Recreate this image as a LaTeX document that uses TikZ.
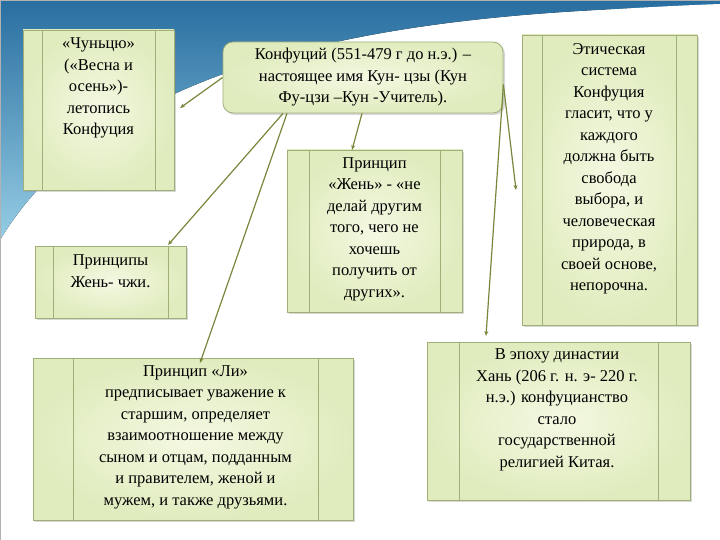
\documentclass[tikz,border=0pt]{standalone}
\usepackage{fontspec}
\setmainfont{Liberation Serif}
\usetikzlibrary{arrows.meta,shadows}
\definecolor{boxA}{RGB}{244,248,226}
\definecolor{boxB}{RGB}{224,236,190}
\definecolor{edge}{RGB}{160,175,120}
\definecolor{arr}{RGB}{120,135,60}
\tikzset{
  panel/.style={draw=edge, line width=0.8pt, inner color=boxA, outer color=boxB, drop shadow={opacity=0.3,shadow xshift=2pt,shadow yshift=-2pt}},
  txt/.style={align=center, font=\fontsize{16.5}{21.5}\selectfont, text=black},
  conn/.style={draw=arr, line width=1.2pt, -{Stealth[length=5pt,width=4pt]}}
}
\begin{document}
\begin{tikzpicture}[x=1pt,y=-1pt]
\useasboundingbox (0,0) rectangle (720,540);
\fill[white] (0,0) rectangle (720,540);
\fill[top color={rgb,255:red,40;green,110;blue,160}, bottom color={rgb,255:red,150;green,205;blue,228}] (0,0) -- (720,0) -- (720,6) .. controls (450,10) and (120,40) .. (0,240) -- cycle;
\fill[white] (720,4) .. controls (450,14) and (100,50) .. (0,250) -- (0,540) -- (720,540) -- cycle;
\draw[gray!60] (0,0) rectangle (720,540);
% boxes
\path[panel] (23,30) rectangle (174,190);
\draw[edge] (42,30)--(42,190) (155,30)--(155,190);
\node[txt] (chun) at (98.5,88) {«Чуньцю»\\(«Весна и\\осень»)-\\летопись\\Конфуция};

\node[txt,panel,rounded corners=10pt,minimum width=280pt,minimum height=71pt,inner sep=0pt] (konf) at (363,77.5) {Конфуций (551-479 г до н.э.) –\\настоящее имя Кун- цзы (Кун\\Фу-цзи –Кун -Учитель).};

\path[panel] (287,150) rectangle (462,312);
\draw[edge] (309,150)--(309,312) (440,150)--(440,312);
\node[txt] (zhen) at (374.5,229) {Принцип\\«Жень» - «не\\делай другим\\того, чего не\\хочешь\\получить от\\других».};

\path[panel] (522,35) rectangle (697,325);
\draw[edge] (542,35)--(542,325) (676,35)--(676,325);
\node[txt] (eth) at (609,169) {Этическая\\система\\Конфуция\\гласит, что у\\каждого\\должна быть\\свобода\\выбора, и\\человеческая\\природа, в\\своей основе,\\непорочна.};

\path[panel] (35,246) rectangle (186,318);
\draw[edge] (53,246)--(53,318) (168,246)--(168,318);
\node[txt] (zhch) at (110.5,271) {Принципы\\Жень- чжи.};

\path[panel] (33,358) rectangle (353,520);
\draw[edge] (73,358)--(73,520) (318,358)--(318,520);
\node[txt] (li) at (195.5,437) {Принцип «Ли»\\предписывает уважение к\\старшим, определяет\\взаимоотношение между\\сыном и отцам, подданным\\и правителем, женой и\\мужем, и также друзьями.};

\path[panel] (427,342) rectangle (690,500);
\draw[edge] (459,342)--(459,500) (658,342)--(658,500);
\node[txt] (han) at (557,410) {В эпоху династии\\Хань (206 г. н. э- 220 г.\\н.э.) конфуцианство\\стало\\государственной\\религией Китая.};

% connectors
\coordinate (a1) at (180,108);
\coordinate (a2) at (168,245);
\coordinate (a3) at (200,363);
\coordinate (a4) at (352,150);
\coordinate (a5) at (516,190);
\coordinate (a6) at (486,336);
\draw[conn] (konf.west) -- (a1);
\draw[conn] ([xshift=-80pt]konf.south) -- (a2);
\draw[conn] ([xshift=-76pt]konf.south) -- (a3);
\draw[conn] ([xshift=-1pt]konf.south) -- (a4);
\draw[conn] ([yshift=-7pt]konf.east) -- (a5);
\draw[conn] ([yshift=-7pt]konf.east) -- (a6);
\end{tikzpicture}
\end{document}
